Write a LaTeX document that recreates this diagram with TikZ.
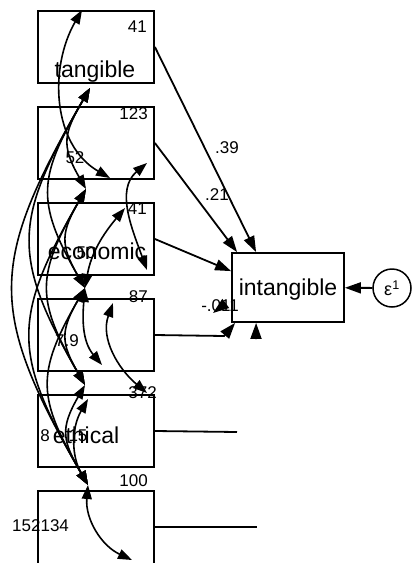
\documentclass[tikz,border=0pt]{standalone}
\usepackage{fontspec}
\setmainfont{Liberation Sans}
\usetikzlibrary{arrows.meta}
\tikzset{
  var/.style={draw,line width=1.8pt,minimum width=116pt,minimum height=72pt,inner sep=0pt},
  big/.style={font=\fontsize{23}{23}\selectfont,inner sep=0pt},
  lab/.style={font=\fontsize{17}{17}\selectfont,inner sep=0pt},
  causal/.style={line width=1.8pt,-{Triangle[length=16pt,width=11pt]}},
  cov/.style={line width=1.6pt,{Triangle[length=14pt,width=10pt]}-{Triangle[length=14pt,width=10pt]}},
}
\begin{document}
\begin{tikzpicture}[x=1pt,y=1pt]
  \useasboundingbox (0,0) rectangle (414,-563);
  % Left: exogenous boxes
  \foreach \n/\y in {1/47, 2/143, 3/239, 4/335, 5/431} {
    \node[var] (b\n) at (96,-\y) {};
  }
  \node[var,minimum height=84pt] (b6) at (96,-533) {};
  \node[big,anchor=base] (tang) at (95,-77) {tangible};
  \node[big,anchor=base] (econ) at (97,-259) {economic};
  \node[big,anchor=base] (eth) at (86,-443) {ethical};
  % variance labels
  \node[lab,anchor=base east] (v1) at (147,-32) {41};
  \node[lab,anchor=base east] (v2) at (148,-119) {123};
  \node[lab,anchor=base] (v3) at (75,-163) {52};
  \node[lab,anchor=base east] (v4) at (147,-214) {41};
  \node[lab,anchor=base] (v5) at (86,-258) {50};
  \node[lab,anchor=base east] (v6) at (148,-302) {87};
  \node[lab,anchor=base] (v7) at (67,-346) {7.9};
  \node[lab,anchor=base east] (v8) at (157,-398) {372};
  \node[lab,anchor=base] (v9) at (45,-441) {8};
  \node[lab,anchor=base] (v10) at (78,-441) {15};
  \node[lab,anchor=base east] (v11) at (148,-486) {100};
  \node[lab,anchor=base west] (v12) at (12,-531) {152134};
  % Right: outcome and error
  \node[var,minimum width=112pt,minimum height=69pt] (y) at (288,-287.5) {};
  \node[big,anchor=base] (yl) at (288,-295) {intangible};
  \node[draw,circle,line width=1.5pt,minimum size=38pt,inner sep=0pt,
    font=\fontsize{18}{18}\selectfont] (eps) at (392,-288) {ε\textsuperscript{1}};
  \draw[causal] (eps) -- (y);
  % paths
  \draw[causal] (b1.east) -- ([xshift=25pt]y.north west);
  \draw[causal] (b2.east) -- ([xshift=6pt]y.north west);
  \draw[causal] (b3.east) -- ([yshift=-19pt]y.north west);
  \coordinate (c4) at (224,-336);
  \draw[causal] (b4.east) -- (c4) -- ([xshift=4pt]y.south west);
  \coordinate (c5) at (237,-432);
  \draw[line width=1.8pt] (b5.east) -- (c5);
  \coordinate (c6) at (257,-527);
  \draw[line width=1.8pt] ([yshift=6pt]b6.east) -- (c6);
  \coordinate (q1) at (225,-304);
  \draw[causal] (q1) -- (213,-313);
  \coordinate (q2) at (256,-339);
  \draw[causal] (q2) -- ([xshift=25pt]y.south west);
  \node[lab,anchor=base] (p1) at (227,-153) {.39};
  \node[lab,anchor=base] (p2) at (217,-200) {.21};
  \node[lab,anchor=base] (p3) at (220,-311) {-.011};
  % covariances
  \coordinate (k1) at (90,-88);
  \coordinate (k2) at (86,-189);
  \coordinate (k3) at (85,-288);
  \coordinate (k4) at (85,-385);
  \coordinate (k5) at (88,-485);
  \foreach \a/\b in {k1/k2, k1/k3, k1/k4, k1/k5, k2/k3, k2/k4, k2/k5, k3/k4, k3/k5, k4/k5}
    \draw[cov] (\a) to[out=240,in=120,looseness=1.3] (\b);
  \coordinate (t1) at (82,-10);
  \coordinate (t2) at (110,-178);
  \coordinate (r1) at (147,-163);
  \coordinate (r2) at (147,-270);
  \coordinate (u1) at (125,-208);
  \coordinate (d1) at (102,-365);
  \coordinate (m1) at (113,-303);
  \coordinate (m2) at (147,-393);
  \coordinate (w1) at (88,-399);
  \coordinate (z1) at (132,-560);
  \draw[cov] (t1) to[out=240,in=150] (t2);
  \draw[cov] (r1) to[out=220,in=110] (r2);
  \draw[cov] (k3) to[out=80,in=230] (u1);
  \draw[cov] (k3) to[out=265,in=130] (d1);
  \draw[cov] (m1) to[out=250,in=140] (m2);
  \draw[cov] (w1) to[out=240,in=120] (k5);
  \draw[cov] (k5) to[out=265,in=155] (z1);
\end{tikzpicture}
\end{document}
